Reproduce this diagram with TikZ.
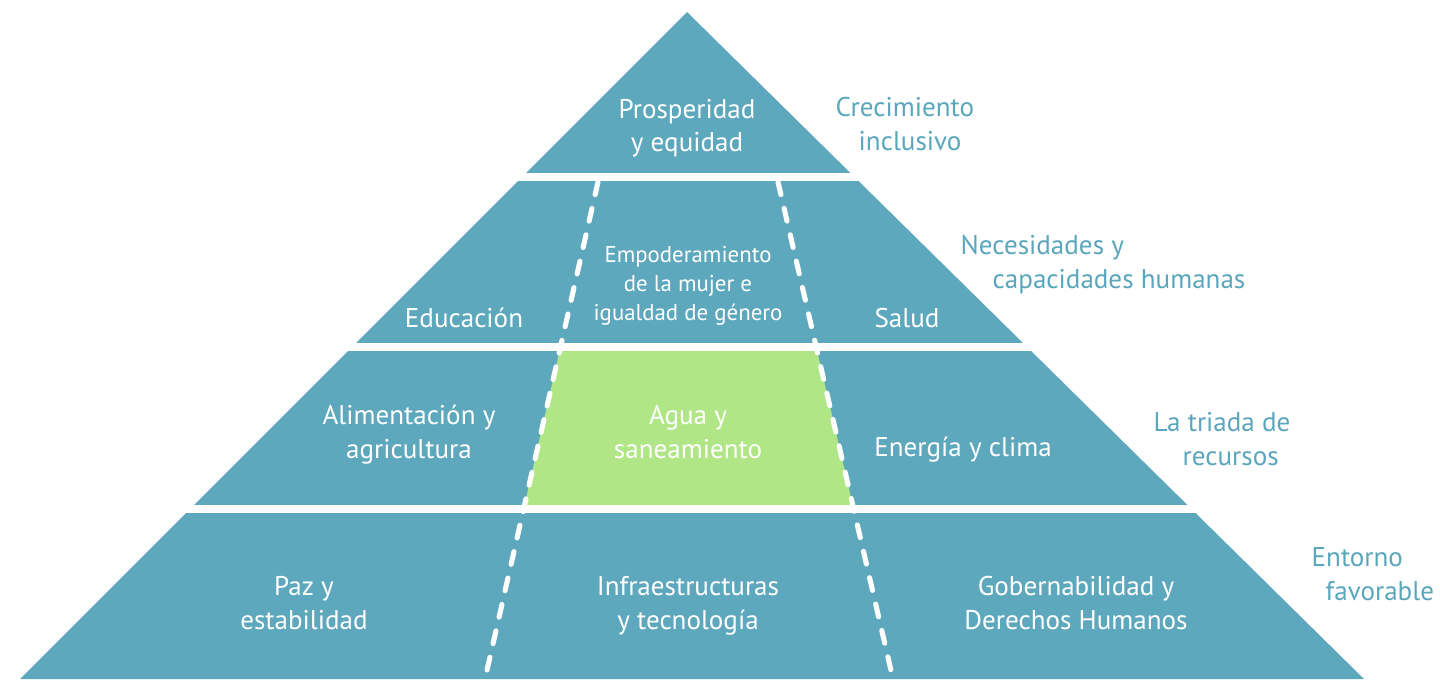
\documentclass[tikz,border=0pt]{standalone}
\usepackage{fontspec}
\setmainfont{PT Sans}
\definecolor{pyrblue}{RGB}{94,168,190}
\definecolor{pyrgreen}{RGB}{176,230,134}
\definecolor{tagblue}{RGB}{90,166,188}
\begin{document}
\begin{tikzpicture}[x=0.01cm,y=-0.01cm,
  seg/.style={text=white,align=center,inner sep=0pt,anchor=base,font=\fontsize{7.7}{9.6}\selectfont},
  small/.style={seg,font=\fontsize{6.5}{8.2}\selectfont},
  tag/.style={text=tagblue,align=left,inner sep=0pt,anchor=base west,font=\fontsize{7.7}{9.4}\selectfont},
  gap/.style={fill=white},
  split/.style={draw=white,line width=1.45pt,line cap=round,dash pattern=on 3.7pt off 4pt}]
  \useasboundingbox (0,0) rectangle (1440,679);

  \coordinate (apex) at (687,12);
  \coordinate (bl) at (20,679);
  \coordinate (br) at (1364,679);
  \coordinate (l1) at (598,182);
  \coordinate (l2) at (485,679);
  \coordinate (r1) at (778,182);
  \coordinate (r2) at (893,679);

  \fill[pyrblue] (apex) -- (br) -- (bl) -- cycle;
  \begin{scope}
    \clip (0,351) rectangle (1440,505);
    \fill[pyrgreen] (l1) -- (r1) -- (r2) -- (l2) -- cycle;
  \end{scope}
  \fill[gap] (0,173) rectangle (1440,181);
  \fill[gap] (0,343) rectangle (1440,351);
  \fill[gap] (0,505) rectangle (1440,513);

  \draw[split] (l1) -- (l2);
  \draw[split] (r1) -- (r2);

  \node[seg] (prosp) at (687,152) {Prosperidad\\y equidad};
  \node[tag] (crec) at (835,150) {Crecimiento\\\hspace{0.23cm}inclusivo};

  \node[seg] (educ) at (464,327) {Educación};
  \node[small] (empod) at (688,320) {Empoderamiento\\de la mujer e\\igualdad de género};
  \node[seg] (salud) at (907,327) {Salud};
  \node[tag] (neces) at (960,288) {Necesidades y\\\hspace{0.32cm}capacidades humanas};

  \node[seg] (alim) at (409,458) {Alimentación y\\agricultura};
  \node[seg] (agua) at (688,458) {Agua y\\saneamiento};
  \node[seg] (energ) at (963,456) {Energía y clima};
  \node[tag] (triada) at (1153,465) {La triada de\\\hspace{0.29cm}recursos};

  \node[seg] (paz) at (304,629) {Paz y\\estabilidad};
  \node[seg] (infra) at (688,629) {Infraestructuras\\y tecnología};
  \node[seg] (gober) at (1076,629) {Gobernabilidad y\\Derechos Humanos};
  \node[tag] (entorno) at (1311,600) {Entorno\\\hspace{0.14cm}favorable};
\end{tikzpicture}
\end{document}
